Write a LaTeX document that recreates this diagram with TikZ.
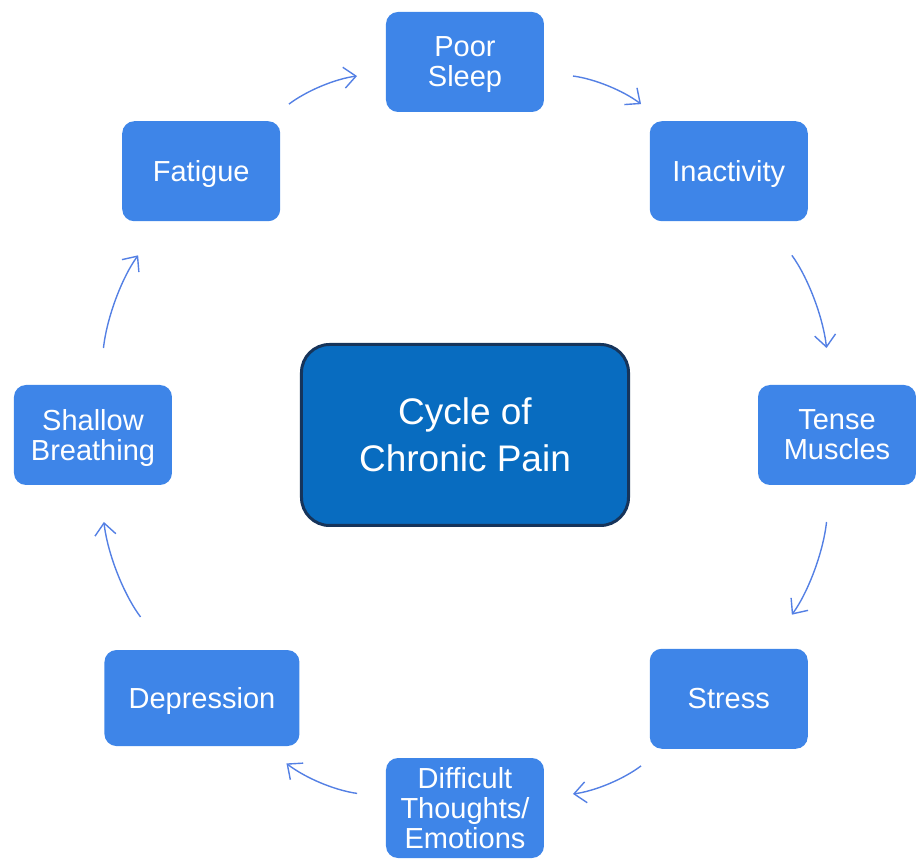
\documentclass[tikz,border=0pt]{standalone}
\usepackage{fontspec}
\setmainfont{Liberation Sans}
\usepackage{xcolor}
\usetikzlibrary{arrows.meta, positioning}

\definecolor{stageblue}{RGB}{62,133,232}
\definecolor{hubblue}{RGB}{8,108,192}
\definecolor{hubborder}{RGB}{22,52,90}
\definecolor{arrowblue}{RGB}{84,128,228}

\begin{document}
\begin{tikzpicture}[
    stage/.style={rectangle, fill=stageblue, text=white, align=center, text depth=0pt, rounded corners=12pt, minimum width=158pt, minimum height=100pt, font=\fontsize{29}{30}\selectfont},
    hub/.style={rectangle, draw=hubborder, line width=3pt, fill=hubblue, text=white, align=center, text depth=0pt, rounded corners=28pt, minimum width=327pt, minimum height=181pt, font=\fontsize{37}{47}\selectfont},
    line/.style={draw=arrowblue, line width=1.4pt, -{Straight Barb[length=12pt,width=21pt]}, bend left=15}
]
    \useasboundingbox (-465pt,-424pt) rectangle (451pt,435pt);

    % Nodes
    \node [hub] (cycle) at (0,0) {Cycle of\\Chronic Pain};
    \node [stage] (sleep) at (90:373pt) {Poor\\Sleep};
    \node [stage] (inactivity) at (45:373pt) {Inactivity};
    \node [stage] (tense) at (0:372pt) {Tense\\Muscles};
    \node [stage] (stress) at (-45:373pt) {Stress};
    \node [stage] (difficult) at (-90:373pt) {Difficult\\Thoughts/\\Emotions};
    \node [stage, minimum width=195pt, minimum height=96pt] (depression) at (-135:372pt) {Depression};
    \node [stage] (shallow) at (180:372pt) {Shallow\\Breathing};
    \node [stage] (fatigue) at (135:373pt) {Fatigue};

    % Paths
    \path [line, shorten <=28pt, shorten >=29pt] (fatigue) to (sleep);
    \path [line, shorten <=29pt, shorten >=28pt] (sleep) to (inactivity);
    \path [line, shorten <=42pt, shorten >=37pt] (inactivity) to (tense);
    \path [line, shorten <=37pt, shorten >=42pt] (tense) to (stress);
    \path [line, shorten <=28pt, shorten >=29pt] (stress) to (difficult);
    \path [line, shorten <=29pt, shorten >=28pt] (difficult) to (depression);
    \path [line, shorten <=41pt, shorten >=37pt] (depression) to (shallow);
    \path [line, shorten <=37pt, shorten >=42pt] (shallow) to (fatigue);
\end{tikzpicture}
\end{document}
